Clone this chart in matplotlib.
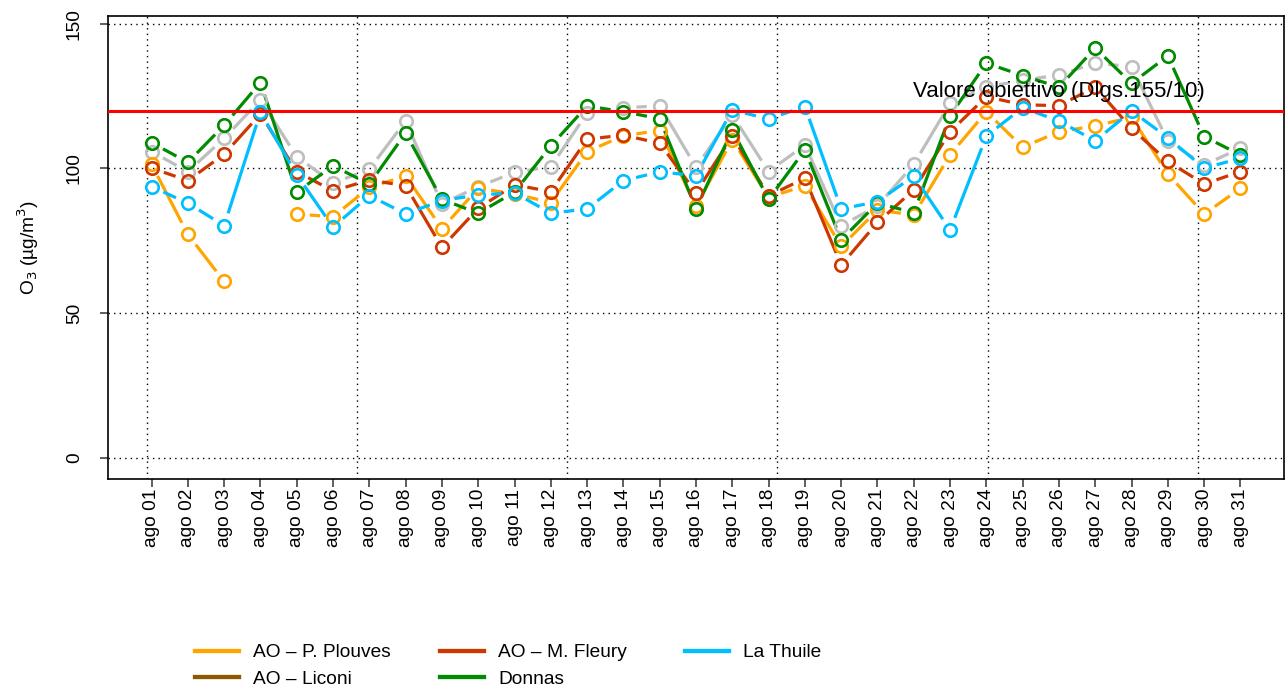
import numpy as np
import matplotlib
matplotlib.use('Agg')
import matplotlib.pyplot as plt
from matplotlib.lines import Line2D

plt.rcParams['font.family'] = ['Liberation Sans', 'DejaVu Sans']

# --- data (daily max 8h O3, August) ---
days = [f'ago {d:02d}' for d in range(1, 32)]

p_plouves = [101.4, 77.2, 60.9, np.nan, 84.2, 83.3, 93.4, 97.4, 79.2, 93.1,
             91.2, 88.2, 105.8, 111.3, 113.1, 87.0, 109.9, 90.0, 94.0, 73.0,
             85.6, 83.9, 104.7, 119.6, 107.3, 112.7, 114.7, 117.7, 98.1, 84.2, 93.1]
m_fleury = [100.1, 95.8, 104.9, 118.8, 98.9, 92.2, 96.0, 94.0, 72.7, 86.2,
            94.3, 92.0, 110.1, 111.5, 108.7, 91.6, 111.2, 90.5, 96.6, 66.6,
            81.3, 92.6, 112.7, 124.8, 122.0, 121.7, 128.1, 113.8, 102.4, 94.6, 98.9]
la_thuile = [93.7, 88.0, 80.2, 119.4, 97.8, 79.7, 90.6, 84.3, 88.9, 90.8,
             91.6, 84.5, 86.0, 95.8, 98.8, 97.5, 120.2, 117.1, 121.4, 86.0,
             88.5, 97.4, 78.7, 111.2, 121.0, 116.4, 109.5, 119.9, 110.6, 100.1, 103.5]
donnas = [108.9, 102.1, 114.9, 129.7, 91.8, 100.9, 94.6, 112.2, 89.3, 84.5,
          91.8, 107.8, 121.6, 119.6, 117.2, 86.0, 113.3, 89.3, 106.4, 75.3,
          88.0, 84.7, 118.2, 136.4, 132.1, 128.1, 141.6, 129.4, 138.9, 111.0, 104.7]
# grey series (not listed in the legend)
grey_series = [105.8, 98.9, 110.4, 123.7, 104.1, 94.9, 99.7, 116.4, 87.7, 93.7,
               98.6, 100.6, 119.1, 121.0, 121.6, 100.4, 118.5, 98.9, 108.1, 80.2,
               87.0, 101.4, 122.5, 128.1, 130.5, 132.3, 136.4, 135.2, 109.5, 101.2, 107.0]
liconi = [np.nan] * 31

target_value = 120
target_label = 'Valore obiettivo (Dlgs.155/10)'

series = [
    (grey_series, '#BEBEBE', None),
    (p_plouves, '#FFA500', 'AO \u2013 P. Plouves'),
    (liconi, '#8B5A00', 'AO \u2013 Liconi'),
    (m_fleury, '#CD3700', 'AO \u2013 M. Fleury'),
    (donnas, '#008B00', 'Donnas'),
    (la_thuile, '#00BFFF', 'La Thuile'),
]

W, H = 1287, 690
FS = 13.8
LW = 2.3


def draw_type_b(ax, x, y, color, gap_px=13):
    """Imitate R's type='b': circles with line segments stopping short of them."""
    x = np.asarray(x, float)
    y = np.asarray(y, float)
    pts = ax.transData.transform(np.column_stack([x, y]))
    inv = ax.transData.inverted()
    for i in range(len(x) - 1):
        if np.isnan(y[i]) or np.isnan(y[i + 1]):
            continue
        p0, p1 = pts[i], pts[i + 1]
        d = p1 - p0
        L = np.hypot(*d)
        if L <= 2 * gap_px:
            continue
        u = d / L
        a = inv.transform(p0 + u * gap_px)
        b = inv.transform(p1 - u * gap_px)
        ax.plot([a[0], b[0]], [a[1], b[1]], color=color, lw=LW,
                solid_capstyle='butt', zorder=3)
    ax.plot(x, y, 'o', ms=9, mfc='none', mec=color, mew=1.9, zorder=4)


fig = plt.figure(figsize=(W / 100, H / 100), dpi=100)
ax = fig.add_axes([108 / W, (H - 479) / H, (1284 - 108) / W, (479 - 16) / H])

xs = np.arange(1, 32)
ax.set_xlim(-0.2, 32.2)
ax.set_ylim(-7.4, 152.7)

# dotted grid
for g in [0, 50, 100, 150]:
    ax.axhline(g, color='black', lw=1, ls=(0, (1, 3)), zorder=1)
for g in 0.88 + 5.788 * np.arange(6):
    ax.axvline(g, color='black', lw=1, ls=(0, (1, 3)), zorder=1)

for vals, color, label in series:
    draw_type_b(ax, xs, vals, color)

ax.axhline(target_value, color='#FF0000', lw=2.2, zorder=5)
ax.text(26, 126.6, target_label, fontsize=16, ha='center', va='center', zorder=6)

ax.set_xticks(xs)
ax.set_xticklabels(days, rotation=90, fontsize=FS, va='top')
ax.set_yticks([0, 50, 100, 150])
ax.set_yticklabels(['0', '50', '100', '150'], rotation=90, va='center', fontsize=FS)
ax.tick_params(axis='both', length=6, width=1.1, color='#333333')
ax.tick_params(axis='y', pad=12)
ax.tick_params(axis='x', pad=1)
ax.set_ylabel('O$_3$ (\u00b5g/m$^3$)', fontsize=FS, labelpad=18)
for s in ax.spines.values():
    s.set_linewidth(1.2)

# legend in three columns, filled column-wise like R
named = [(c, l) for _, c, l in series if l is not None]
cols = [[named[0], named[1]], [named[2], named[3]], [named[4]]]
col_x = [195, 440, 685]
for cx, entries in zip(col_x, cols):
    handles = [Line2D([], [], color=c, lw=LW + 0.8) for c, _ in entries]
    labels = [l for _, l in entries]
    fig.legend(handles, labels, loc='upper left',
               bbox_to_anchor=(cx / W, 1 - 644 / H), frameon=False,
               fontsize=FS, borderpad=0, borderaxespad=0,
               handlelength=2.3, handletextpad=0.75, labelspacing=0.48)

fig.savefig('out.png', dpi=100)
